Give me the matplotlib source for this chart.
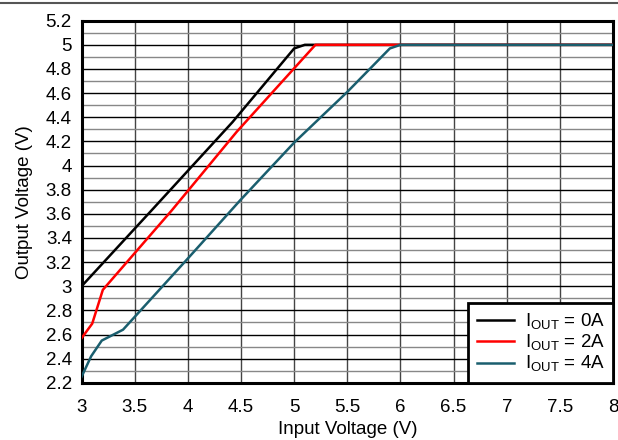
import matplotlib
matplotlib.use("Agg")
import matplotlib.pyplot as plt
from matplotlib.lines import Line2D
from matplotlib.ticker import MultipleLocator

plt.rcParams['font.family'] = ['Liberation Sans', 'DejaVu Sans']

# values
vin_0a = [3.0, 3.66, 4.42, 5.0, 5.1, 8.0]
vout_0a = [3.0, 3.63, 4.36, 4.97, 5.0, 5.0]

vin_2a = [3.0, 3.1, 3.2, 3.85, 4.46, 5.2, 8.0]
vout_2a = [2.57, 2.69, 2.97, 3.63, 4.28, 5.0, 5.0]

vin_4a = [3.0, 3.09, 3.19, 3.39, 4.0, 4.49, 5.0, 5.5, 5.9, 6.0, 8.0]
vout_4a = [2.25, 2.42, 2.55, 2.64, 3.23, 3.71, 4.19, 4.61, 4.97, 5.0, 5.0]

labels = ['I$_\\mathregular{OUT}$ = 0A', 'I$_\\mathregular{OUT}$ = 2A', 'I$_\\mathregular{OUT}$ = 4A']
colors = ['#000000', '#ff0000', '#1a5e6e']

fs = 13.5

fig = plt.figure(figsize=(6.18, 4.40), dpi=100)
ax = fig.add_axes([0.132, 0.13, 0.86, 0.823])

# grey rule along the top of the page
fig.add_artist(Line2D([0, 1], [0.993, 0.993], color='#555555', lw=1.5,
                      transform=fig.transFigure))

ax.plot(vin_0a, vout_0a, color=colors[0], lw=1.8, label=labels[0], zorder=3)
ax.plot(vin_2a, vout_2a, color=colors[1], lw=1.8, label=labels[1], zorder=3)
ax.plot(vin_4a, vout_4a, color=colors[2], lw=1.8, label=labels[2], zorder=3)

ax.set_xlim(3, 8)
ax.set_ylim(2.2, 5.2)
ax.yaxis.set_minor_locator(MultipleLocator(0.1))
ax.set_xticks([3, 3.5, 4, 4.5, 5, 5.5, 6, 6.5, 7, 7.5, 8])
ax.set_xticklabels(['3', '3.5', '4', '4.5', '5', '5.5', '6', '6.5', '7', '7.5', '8'])
ax.set_yticks([2.2, 2.4, 2.6, 2.8, 3, 3.2, 3.4, 3.6, 3.8, 4, 4.2, 4.4, 4.6, 4.8, 5, 5.2])
ax.set_yticklabels(['2.2', '2.4', '2.6', '2.8', '3', '3.2', '3.4', '3.6', '3.8', '4',
                    '4.2', '4.4', '4.6', '4.8', '5', '5.2'])

ax.grid(True, which='major', axis='x', color='#444444', lw=1.0)
ax.grid(True, which='major', axis='y', color='#000000', lw=1.0)
ax.grid(True, which='minor', axis='y', color='#888888', lw=1.0)
ax.tick_params(which='both', length=0, labelsize=fs)
ax.tick_params(axis='y', pad=7)
ax.tick_params(axis='x', pad=12)

for s in ax.spines.values():
    s.set_linewidth(2.2)

ax.set_xlabel('Input Voltage (V)', fontsize=fs, labelpad=3)
ax.set_ylabel('Output Voltage (V)', fontsize=fs, labelpad=9)

leg = ax.legend(loc='lower right', fontsize=fs, frameon=True, fancybox=False,
                borderaxespad=0, handlelength=2.0, labelspacing=0.05,
                borderpad=0.45, handletextpad=0.55)
leg.get_frame().set_edgecolor('black')
leg.get_frame().set_linewidth(2.0)
leg.get_frame().set_alpha(1)

fig.savefig('out.png', dpi=100)
